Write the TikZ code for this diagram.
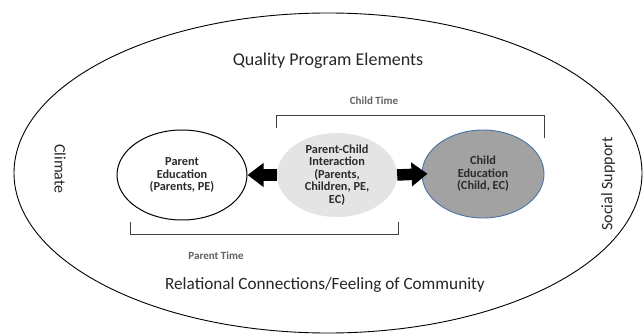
\documentclass[tikz,border=0pt]{standalone}
\usepackage{fontspec}
\setmainfont{Carlito}
\usetikzlibrary{shapes.geometric,arrows.meta}
\definecolor{pcgray}{HTML}{E4E4E4}
\definecolor{childgray}{HTML}{A2A2A2}
\definecolor{childrim}{HTML}{4A72A8}
\definecolor{inktext}{HTML}{2B2B2B}
\begin{document}
\begin{tikzpicture}[
    x=1pt,y=-1pt,
    every node/.style={inner sep=0pt, text=black!85},
    big/.style={font=\fontsize{18}{20}\selectfont},
    side/.style={font=\fontsize{16}{18}\selectfont},
    timelabel/.style={font=\fontsize{11}{12}\selectfont\bfseries, text=black!62},
    inner/.style={ellipse, align=center, text=inktext, font=\fontsize{12.3}{12.5}\selectfont\bfseries},
    parentbox/.style={inner, draw=black, line width=1pt, fill=white, minimum width=130pt, minimum height=90pt},
    pcbox/.style={inner, fill=pcgray, minimum width=120pt, minimum height=84pt, inner sep=-3pt},
    childbox/.style={inner, draw=childrim, line width=0.9pt, fill=childgray, minimum width=122pt, minimum height=88pt},
    bracket/.style={draw=black!75, line width=1pt},
    blockarrow/.style={line width=11.5pt, black, -{Triangle[length=16pt,width=23pt]}}
]
    \useasboundingbox (0,0) rectangle (644,336);
    \node[ellipse, draw=black, line width=0.9pt, minimum width=628pt, minimum height=320pt] (outer) at (328,173) {};

    \node[big] (quality) at (328,61) {Quality Program Elements};
    \node[big, font=\fontsize{17.2}{20}\selectfont] (relational) at (325,285) {Relational Connections/Feeling of Community};
    \node[side, rotate=-90] (climate) at (60,169) {Climate};
    \node[side, rotate=90] (social) at (608,184) {Social Support};

    \node[parentbox] (pe) at (182,175) {Parent\\Education\\(Parents, PE)};
    \node[pcbox] (pci) at (337,175) {Parent-Child\\Interaction\\(Parents,\\Children, PE,\\EC)};
    \node[childbox] (ce) at (483,174) {Child\\Education\\(Child, EC)};

    \draw[blockarrow] (pci.west) -- (pe.east);
    \draw[blockarrow, shorten >=-6pt] (pci.east) -- (ce.west);

    \coordinate (ctl) at (276,128);
    \coordinate (ctr) at (544,138);
    \draw[bracket] (ctl) -- ++(0,-12) -| (ctr);
    \node[timelabel] (childtime) at (374,101) {Child Time};

    \coordinate (ptl) at (130,222);
    \coordinate (ptr) at (398,222);
    \draw[bracket] (ptl) -- ++(0,13) -| (ptr);
    \node[timelabel] (parenttime) at (216,256) {Parent Time};
\end{tikzpicture}
\end{document}
